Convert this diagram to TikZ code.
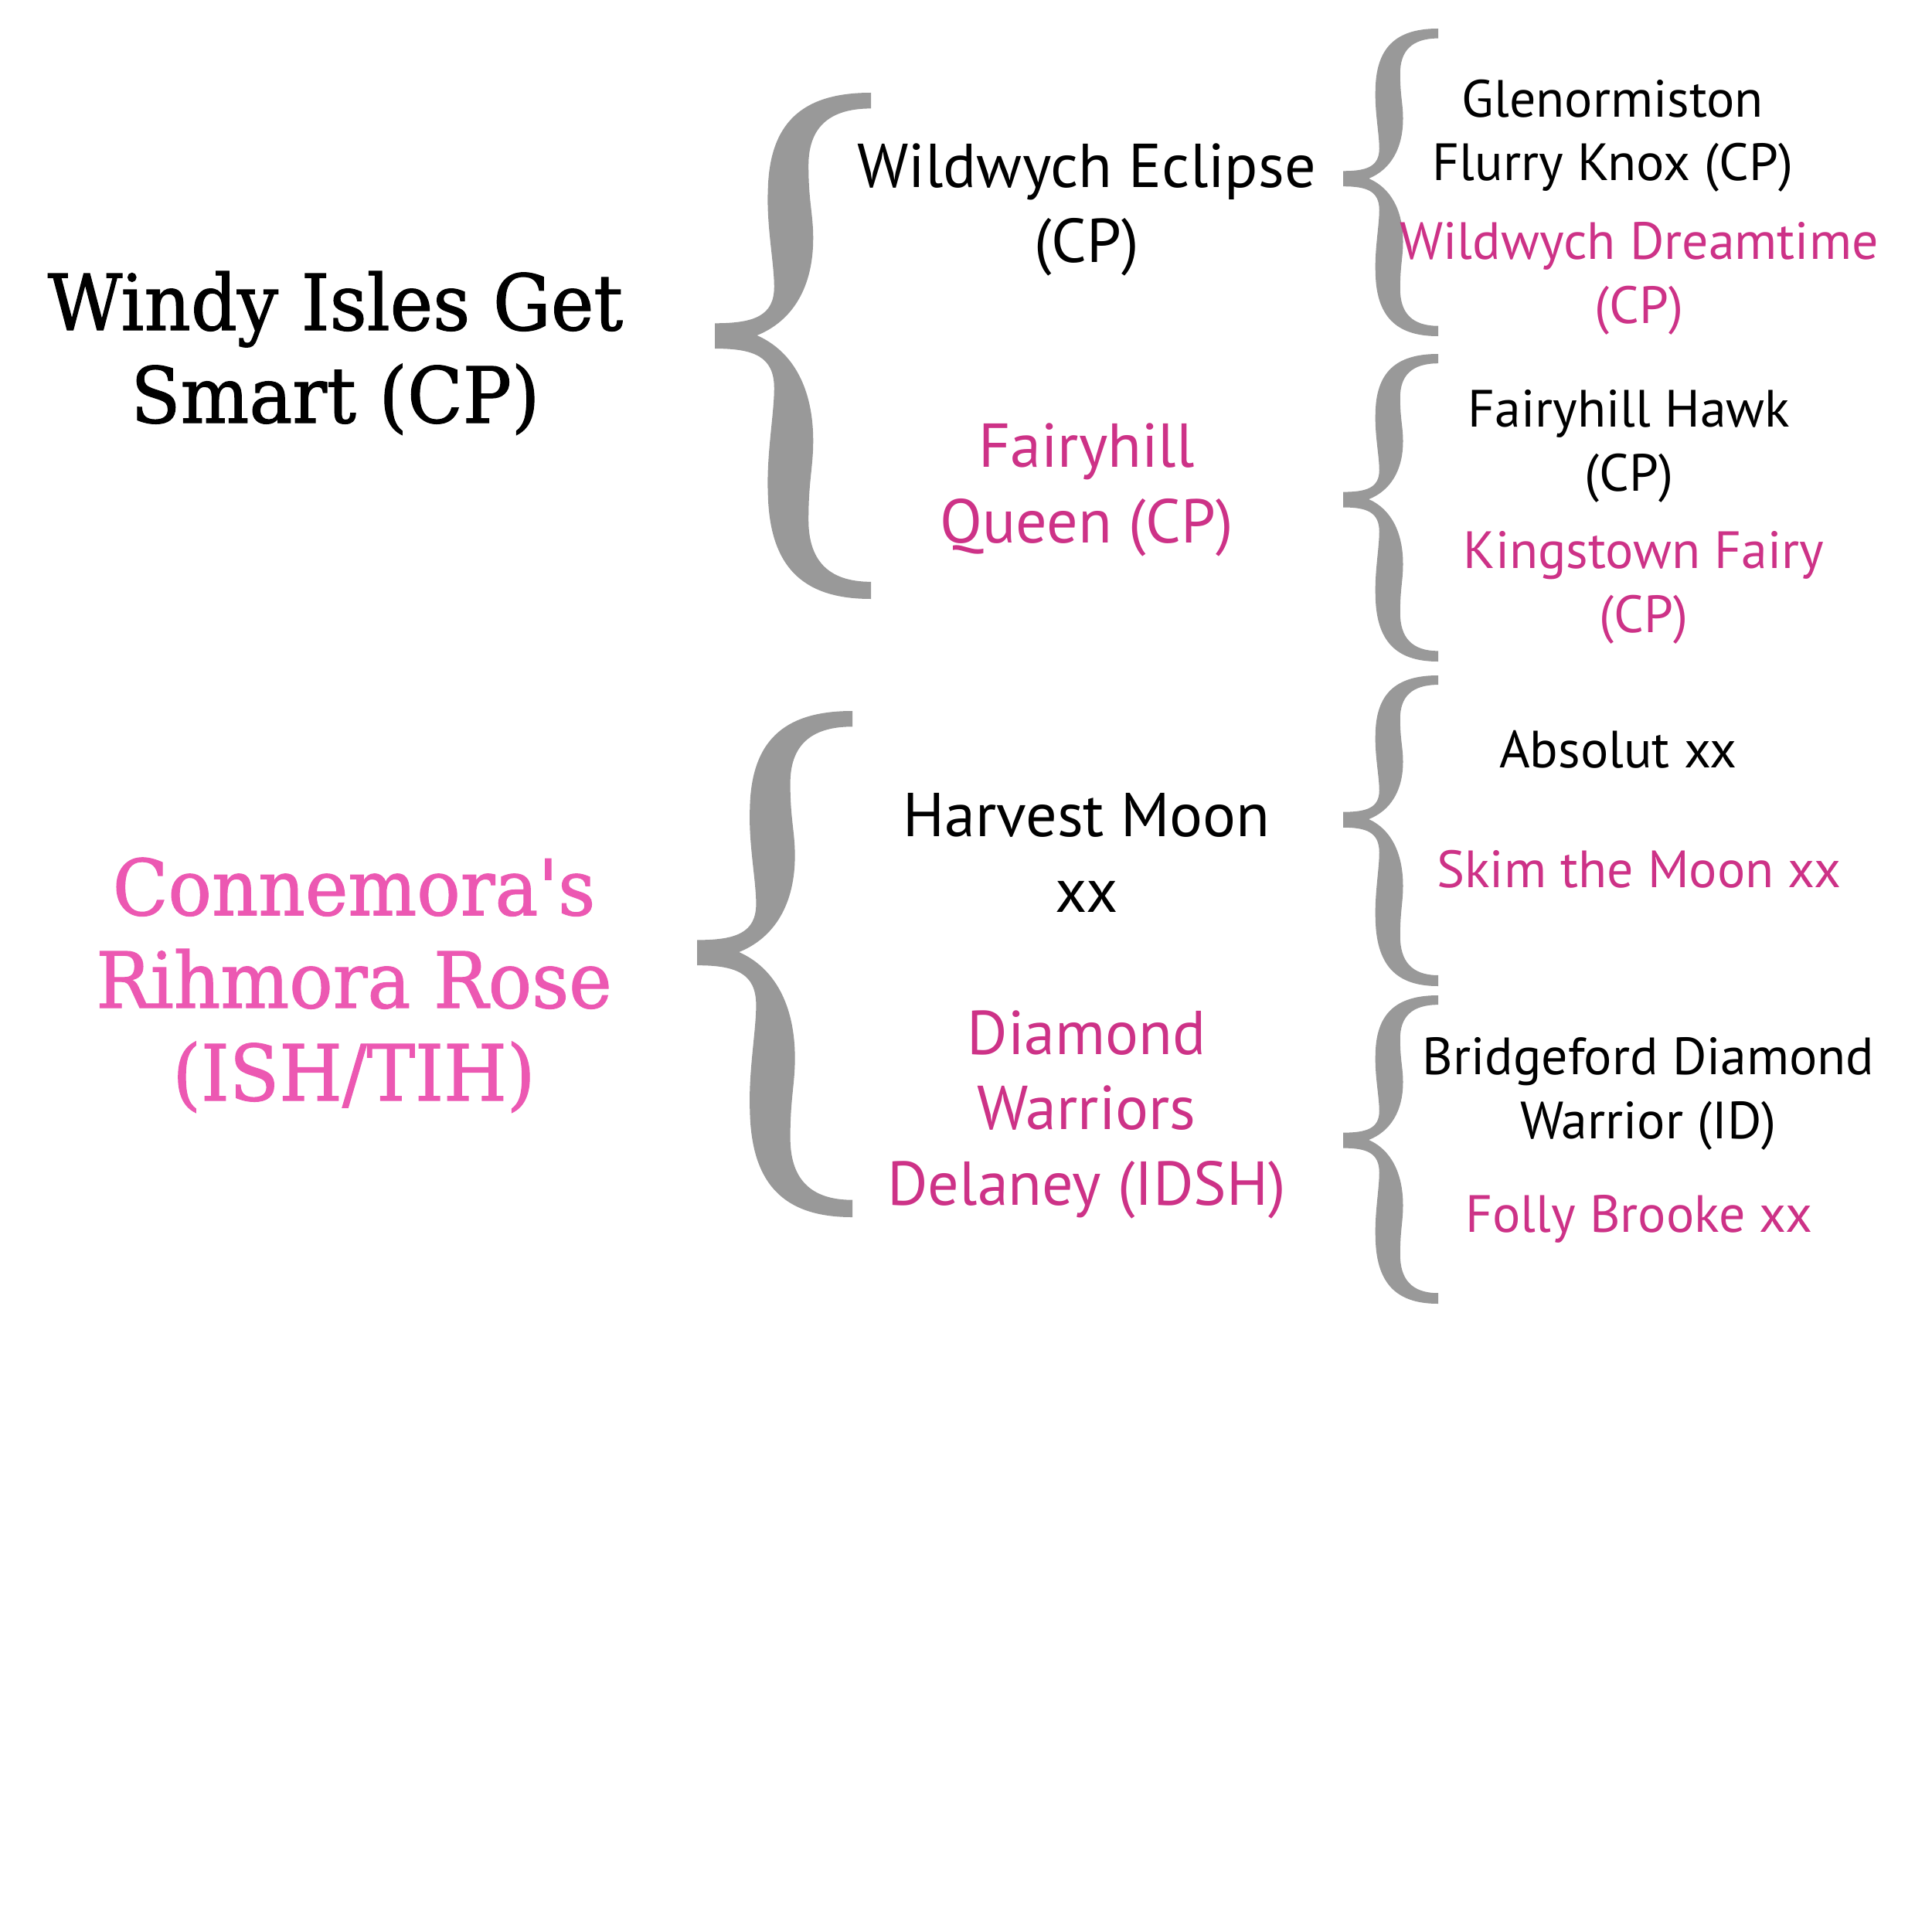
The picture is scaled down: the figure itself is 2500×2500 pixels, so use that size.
\documentclass[tikz,border=0pt]{standalone}
\usepackage{fontspec}
\newfontfamily\srcsans{PT Sans}
\newfontfamily\slab{DejaVu Serif Condensed}[Ligatures=ResetAll, FakeStretch=1.04, FakeBold=1.2]
\definecolor{braceg}{RGB}{153,153,153}
\definecolor{pinkdk}{RGB}{205,50,135}
\definecolor{pinkhot}{RGB}{236,88,178}
\newcommand\brc[5]{%
 \pgfmathsetmacro\bW{#3-#1}\pgfmathsetmacro\bT{#2-#4}\pgfmathsetmacro\bB{#5-#2}%
 \fill[bracefill] (#3,#4)
 .. controls ({#1+0.6*\bW},{#4}) and ({#1+0.35*\bW},{#2-0.9*\bT}) .. ({#1+0.34*\bW},{#2-0.6*\bT})
 .. controls ({#1+0.33*\bW},{#2-0.45*\bT}) and ({#1+0.38*\bW},{#2-0.3*\bT}) .. ({#1+0.38*\bW},{#2-0.2*\bT})
 .. controls ({#1+0.38*\bW},{#2-0.08*\bT}) and ({#1+0.25*\bW},{#2-0.05*\bT}) .. ({#1},{#2-0.05*\bT})
 -- ({#1},{#2+0.05*\bB})
 .. controls ({#1+0.25*\bW},{#2+0.05*\bB}) and ({#1+0.38*\bW},{#2+0.08*\bB}) .. ({#1+0.38*\bW},{#2+0.2*\bB})
 .. controls ({#1+0.38*\bW},{#2+0.3*\bB}) and ({#1+0.33*\bW},{#2+0.45*\bB}) .. ({#1+0.34*\bW},{#2+0.6*\bB})
 .. controls ({#1+0.35*\bW},{#2+0.9*\bB}) and ({#1+0.6*\bW},{#5}) .. (#3,#5)
 -- ({#3},{#2+0.935*\bB})
 .. controls ({#1+0.72*\bW},{#2+0.935*\bB}) and ({#1+0.6*\bW},{#2+0.85*\bB}) .. ({#1+0.6*\bW},{#2+0.7*\bB})
 .. controls ({#1+0.6*\bW},{#2+0.55*\bB}) and ({#1+0.63*\bW},{#2+0.5*\bB}) .. ({#1+0.63*\bW},{#2+0.4*\bB})
 .. controls ({#1+0.63*\bW},{#2+0.2*\bB}) and ({#1+0.5*\bW},{#2+0.06*\bB}) .. ({#1+0.27*\bW},{#2})
 .. controls ({#1+0.5*\bW},{#2-0.06*\bT}) and ({#1+0.63*\bW},{#2-0.2*\bT}) .. ({#1+0.63*\bW},{#2-0.4*\bT})
 .. controls ({#1+0.63*\bW},{#2-0.5*\bT}) and ({#1+0.6*\bW},{#2-0.55*\bT}) .. ({#1+0.6*\bW},{#2-0.7*\bT})
 .. controls ({#1+0.6*\bW},{#2-0.85*\bT}) and ({#1+0.72*\bW},{#2-0.935*\bT}) .. ({#3},{#2-0.935*\bT})
 -- cycle;}
\tikzset{
 bracefill/.style={fill=braceg},
 ttl/.style={font=\slab\fontsize{28.5}{34.1}\selectfont, align=center, anchor=base, inner sep=0pt},
 mid/.style={font=\srcsans\fontsize{22.8}{27.6}\selectfont, align=center, anchor=base, inner sep=0pt},
 sml/.style={font=\srcsans\fontsize{19.3}{23.6}\selectfont, align=center, anchor=base, inner sep=0pt},
 sire/.style={text=black},
 dam/.style={text=pinkdk}
}
\begin{document}
\begin{tikzpicture}[x=0.01cm,y=-0.01cm]
\useasboundingbox (0,0) rectangle (2500,2500);
\fill[white] (0,0) rectangle (2500,2500);
% braces
\brc{925}{434}{1127}{120}{775}
\brc{902}{1232}{1103}{920}{1575}
\brc{1738}{231}{1861}{37}{435}
\brc{1738}{646}{1861}{458}{856}
\brc{1738}{1060}{1861}{874}{1276}
\brc{1738}{1475}{1861}{1288}{1687}
% titles (positions give the baseline of the last line)
\node[ttl, text=black] (t1) at (434,547) {Windy Isles Get\\Smart (CP)};
\node[ttl, text=pinkhot] (t2) at (458,1424) {Connemora's\\Rihmora Rose\\(ISH/TIH)};
% parents
\node[mid, sire] (p1) at (1406,340) {Wildwych Eclipse\\(CP)};
\node[mid, dam] (p2) at (1406,702) {Fairyhill\\Queen (CP)};
\node[mid, sire] (p3) at (1406,1180) {Harvest Moon\\xx};
\node[mid, dam] (p4) at (1406,1559) {Diamond\\Warriors\\Delaney (IDSH)};
% grandparents
\node[sml, sire] (g1) at (2087,234) {Glenormiston\\Flurry Knox (CP)};
\node[sml, dam] (g2) at (2121,418) {Wildwych Dreamtime\\(CP)};
\node[sml, sire] (g3) at (2108,635) {Fairyhill Hawk\\(CP)};
\node[sml, dam] (g4) at (2127,818) {Kingstown Fairy\\(CP)};
\node[sml, sire] (g5) at (2094,993) {Absolut xx};
\node[sml, dam] (g6) at (2121,1148) {Skim the Moon xx};
\node[sml, sire] (g7) at (2133,1473) {Bridgeford Diamond\\Warrior (ID)};
\node[sml, dam] (g8) at (2121,1594) {Folly Brooke xx};
\end{tikzpicture}
\end{document}
